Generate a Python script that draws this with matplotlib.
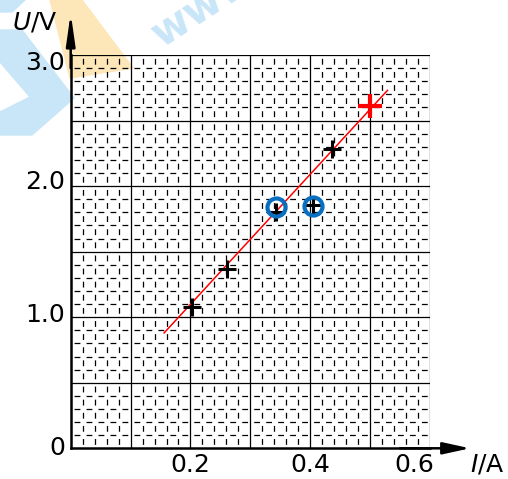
import matplotlib
matplotlib.use("Agg")
import matplotlib.pyplot as plt
import numpy as np
from matplotlib.patches import Polygon

plt.rcParams['font.family'] = ['DejaVu Sans']
plt.rcParams['lines.scale_dashes'] = False

# measured points (I in A, U in V)
current = [0.203, 0.261, 0.343, 0.405, 0.437]
voltage = [1.08, 1.37, 1.80, 1.855, 2.28]
# extra point drawn in red
red_I = [0.50]
red_U = [2.61]
# circled points
circle_I = [0.342, 0.404]
circle_U = [1.84, 1.85]
# fitted line ends
line_I = [0.156, 0.529]
line_U = [0.88, 2.73]

x_ticks = [0.2, 0.4, 0.6]
x_labels = ['0.2', '0.4', '0.6']
y_ticks = [0, 1.0, 2.0, 3.0]
y_labels = ['0', '1.0', '2.0', '3.0']

W, H = 508, 479
fig = plt.figure(figsize=(W / 100, H / 100), dpi=100)
ax = fig.add_axes([70.7 / W, 1 - 448.3 / H, (430 - 70.7) / W, (448.3 - 55) / H])
ax.set_xlim(0, 0.6)
ax.set_ylim(0, 3.0)
ax.set_zorder(2)
ax.patch.set_alpha(0)

# watermark shapes (figure pixels, y down)
def px(pts):
    return [(x / W, 1 - y / H) for x, y in pts]

fig.patches.append(Polygon(px([(50, 0), (82, 0), (133, 68), (70, 78)]),
                           closed=True, transform=fig.transFigure,
                           color='#fde6b8', zorder=0))
fig.patches.append(Polygon(px([(0, 30), (22, 30), (74, 98), (32, 135), (0, 135),
                               (0, 112), (30, 97), (0, 62)]),
                           closed=True, transform=fig.transFigure,
                           color='#c9e6f8', zorder=0))
fig.patches.append(Polygon(px([(0, 0), (25, 0), (12, 12), (0, 12)]),
                           closed=True, transform=fig.transFigure,
                           color='#c9e6f8', zorder=0))
fig.text(203 / W, 1 - 6 / H, 'www', color='#c9e6f8', fontsize=30,
         fontweight='bold', rotation=33, ha='center', va='center', zorder=0)

# grid paper
sx = 0.02 / 0.6 * (430 - 70.7) * 0.72
sy = 0.1 / 3.0 * (448.3 - 55) * 0.72
d = 4.2
for xv in np.arange(0.02, 0.6, 0.02):
    if abs(xv / 0.1 - round(xv / 0.1)) > 1e-6:
        ax.axvline(xv, color='black', lw=0.9,
                   linestyle=((sy / 2 + d / 2), (d, sy - d)), zorder=1)
for yv in np.arange(0.1, 3.0, 0.1):
    if abs(yv / 0.5 - round(yv / 0.5)) > 1e-6:
        ax.axhline(yv, color='black', lw=0.9,
                   linestyle=((sx / 2 + d / 2), (d, sx - d)), zorder=1)
for xv in np.arange(0.1, 0.61, 0.1):
    ax.axvline(xv, color='black', lw=0.9, zorder=1)
for yv in np.arange(0.5, 3.01, 0.5):
    ax.axhline(yv, color='black', lw=0.9, zorder=1)

for s in ['top', 'right']:
    ax.spines[s].set_visible(False)
ax.spines['left'].set_linewidth(1.8)
ax.spines['bottom'].set_linewidth(1.8)

# axis arrows
ax.annotate('', xy=(0, 3.32), xytext=(0, 2.9), xycoords='data',
            arrowprops=dict(arrowstyle='-|>,head_length=1.9,head_width=0.27',
                            mutation_scale=10, lw=1.8, color='black',
                            shrinkA=0, shrinkB=0),
            annotation_clip=False)
ax.annotate('', xy=(0.667, 0), xytext=(0.55, 0), xycoords='data',
            arrowprops=dict(arrowstyle='-|>,head_length=1.65,head_width=0.36',
                            mutation_scale=10, lw=1.8, color='black',
                            shrinkA=0, shrinkB=0),
            annotation_clip=False)

ax.plot(line_I, line_U, color='red', lw=1.1, zorder=3)
ax.plot(current, voltage, '+', color='black', ms=13, mew=2.2, zorder=4)
ax.plot(red_I, red_U, '+', color='red', ms=17, mew=3, zorder=4)
ax.plot(circle_I, circle_U, 'o', mfc='none', mec='#0b6fc0', ms=13, mew=3, zorder=5)

# tick labels placed by hand next to their ticks
ax.set_xticks([])
ax.set_yticks([])
x_shift = [0, 0, -11]
for t, lab, dx in zip(x_ticks, x_labels, x_shift):
    ax.annotate(lab, xy=(t, 0), xytext=(dx, -12), textcoords='offset points',
                ha='center', va='center', fontsize=18, annotation_clip=False)
y_shift = [0, 1.5, 3, -5.5]
for t, lab, dy in zip(y_ticks, y_labels, y_shift):
    ax.annotate(lab, xy=(0, t), xytext=(-4, dy), textcoords='offset points',
                ha='right', va='center', fontsize=18, annotation_clip=False)

fig.text(12 / W, 1 - 22 / H, '$U$/V', fontsize=18, va='center', ha='left')
fig.text(470 / W, 1 - 464 / H, '$I$/A', fontsize=18, va='center', ha='left')

fig.savefig('out.png', dpi=100)
